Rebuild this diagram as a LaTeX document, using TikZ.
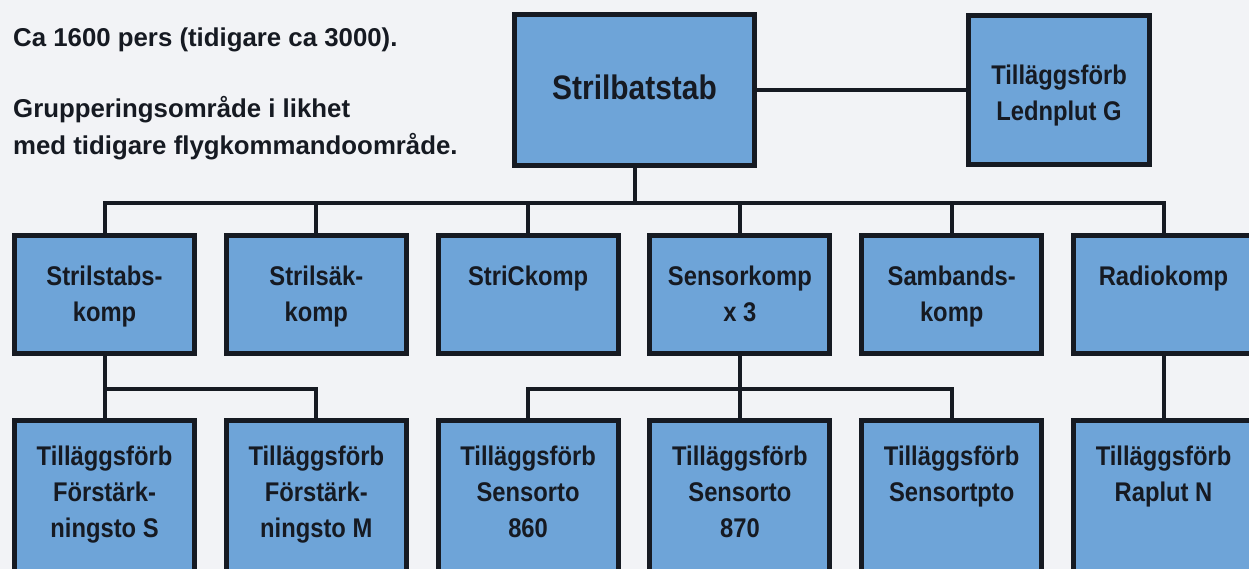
\documentclass[tikz,border=0pt]{standalone}
\usepackage{fontspec}
\setmainfont{Liberation Sans}
\newfontfamily\boxfont{Liberation Sans}[FakeStretch=0.88]
\newfontfamily\notefont{Liberation Sans}
\newcommand\firstln{\rule{0pt}{20pt}}
\definecolor{ink}{RGB}{22,26,34}
\definecolor{boxblue}{RGB}{110,164,216}
\definecolor{paper}{RGB}{242,243,246}
\begin{document}
\begin{tikzpicture}[x=1pt,y=-1pt,
  box/.style={draw=ink, fill=boxblue, line width=5pt, inner sep=0pt, minimum width=180pt},
  rowtwo/.style={box, minimum height=118pt},
  rowthree/.style={box, minimum height=170pt},
  conn/.style={draw=ink, line width=4pt, line join=miter},
  lbl/.style={font=\boxfont\bfseries\fontsize{27pt}{36pt}\selectfont, text=ink, align=center, inner sep=0pt, anchor=north},
  note/.style={font=\notefont\bfseries\fontsize{25.8pt}{37pt}\selectfont, text=ink, inner sep=0pt, anchor=base west}]
\useasboundingbox (0,0) rectangle (1249,569);
\clip (0,0) rectangle (1249,569);
\fill[paper] (0,0) rectangle (1249,569);

% top-left notes
\node[note] (n1) at (13,47) {Ca 1600 pers (tidigare ca 3000).};
\node[note] (n2) at (13,118) {Grupperingsområde i likhet};
\node[note] (n3) at (13,155) {med tidigare flygkommandoområde.};

% top level
\node[box, minimum width=240pt, minimum height=151pt] (top) at (634.5,90) {};
\node[font=\boxfont\bfseries\fontsize{34pt}{40pt}\selectfont, text=ink, inner sep=0pt, anchor=base] (ttop) at (634.5,100) {Strilbatstab};
\node[box, minimum width=181pt, minimum height=149pt] (ledn) at (1059,90) {};
\node[lbl] (tledn) at ([yshift=-51pt]ledn.north) {\firstln Tilläggsförb\\Lednplut G};

% second row
\node[rowtwo] (b1) at (104.5,294.5) {};
\node[rowtwo] (b2) at (316.3,294.5) {};
\node[rowtwo] (b3) at (528.1,294.5) {};
\node[rowtwo] (b4) at (739.9,294.5) {};
\node[rowtwo] (b5) at (951.7,294.5) {};
\node[rowtwo] (b6) at (1163.5,294.5) {};
\node[lbl] (tb1) at ([yshift=-32pt]b1.north) {\firstln Strilstabs-\\komp};
\node[lbl] (tb2) at ([yshift=-32pt]b2.north) {\firstln Strilsäk-\\komp};
\node[lbl] (tb3) at ([yshift=-32pt]b3.north) {\firstln StriCkomp};
\node[lbl] (tb4) at ([yshift=-32pt]b4.north) {\firstln Sensorkomp\\x 3};
\node[lbl] (tb5) at ([yshift=-32pt]b5.north) {\firstln Sambands-\\komp};
\node[lbl] (tb6) at ([yshift=-32pt]b6.north) {\firstln Radiokomp};

% third row
\node[rowthree] (c1) at (104.5,505.5) {};
\node[rowthree] (c2) at (316.3,505.5) {};
\node[rowthree] (c3) at (528.1,505.5) {};
\node[rowthree] (c4) at (739.9,505.5) {};
\node[rowthree] (c5) at (951.7,505.5) {};
\node[rowthree] (c6) at (1163.5,505.5) {};
\node[lbl] (tc1) at ([yshift=-27pt]c1.north) {\firstln Tilläggsförb\\Förstärk-\\ningsto S};
\node[lbl] (tc2) at ([yshift=-27pt]c2.north) {\firstln Tilläggsförb\\Förstärk-\\ningsto M};
\node[lbl] (tc3) at ([yshift=-27pt]c3.north) {\firstln Tilläggsförb\\Sensorto\\860};
\node[lbl] (tc4) at ([yshift=-27pt]c4.north) {\firstln Tilläggsförb\\Sensorto\\870};
\node[lbl] (tc5) at ([yshift=-27pt]c5.north) {\firstln Tilläggsförb\\Sensortpto};
\node[lbl] (tc6) at ([yshift=-27pt]c6.north) {\firstln Tilläggsförb\\Raplut N};

% bus levels
\coordinate (busA) at (0,203);
\coordinate (busB) at (0,389);

% connectors
\draw[conn] (top.east) -- (ledn.west);
\draw[conn] (top.south) -- (top.south |- busA);
\draw[conn] (b1.north) -- (b1.north |- busA) -- (b6.north |- busA) -- (b6.north);
\draw[conn] (b2.north) -- (b2.north |- busA);
\draw[conn] (b3.north) -- (b3.north |- busA);
\draw[conn] (b4.north) -- (b4.north |- busA);
\draw[conn] (b5.north) -- (b5.north |- busA);

\draw[conn] (b1.south) -- (c1.north);
\draw[conn] (c1.north |- busB) -- (c2.north |- busB) -- (c2.north);
\draw[conn] (b4.south) -- (c4.north);
\draw[conn] (c3.north) -- (c3.north |- busB) -- (c5.north |- busB) -- (c5.north);
\draw[conn] (b6.south) -- (c6.north);
\end{tikzpicture}
\end{document}
